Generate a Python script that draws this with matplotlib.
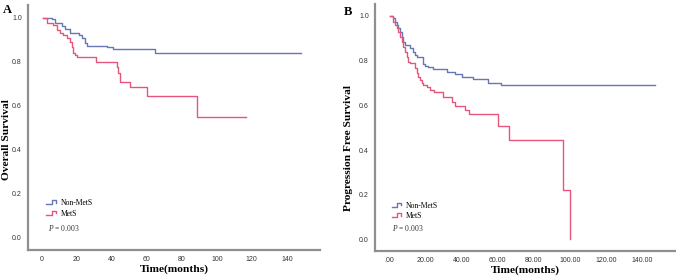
import matplotlib
matplotlib.use("Agg")
import matplotlib.pyplot as plt
from matplotlib.legend_handler import HandlerBase
from matplotlib.lines import Line2D

plt.rcParams['mathtext.fontset'] = 'custom'
plt.rcParams['mathtext.it'] = 'Liberation Serif:italic'
plt.rcParams['mathtext.rm'] = 'Liberation Serif'

# ---------------- data ----------------
os_non_t = [0.76, 5.5, 7.4, 11.2, 13.1, 16.0, 21.3, 22.7, 24.6, 25.5, 37.0, 40.7, 64.6, 148.0]
os_non_s = [1.0, 0.994, 0.976, 0.965, 0.948, 0.930, 0.923, 0.907, 0.885, 0.874, 0.867, 0.857, 0.842, 0.842]
os_met_t = [0.76, 2.7, 6.5, 8.4, 10.3, 12.2, 14.1, 16.0, 17.0, 17.9, 18.9, 19.8, 30.9, 42.7, 43.6, 44.6,
            50.3, 59.8, 88.7, 116.4]
os_met_s = [1.0, 0.976, 0.968, 0.945, 0.930, 0.923, 0.907, 0.892, 0.870, 0.839, 0.832, 0.821, 0.798, 0.778,
            0.748, 0.710, 0.684, 0.645, 0.551, 0.551]

pfs_non_t = [0.4, 2.2, 3.2, 4.1, 5.0, 5.9, 6.9, 7.8, 8.7, 11.5, 13.3, 14.2, 15.2, 18.8, 19.8, 21.6, 24.4,
             31.8, 36.4, 40.1, 46.5, 54.8, 62.0, 147.2]
pfs_non_s = [1.0, 0.990, 0.975, 0.960, 0.945, 0.930, 0.907, 0.885, 0.870, 0.855, 0.840, 0.825, 0.818, 0.785,
             0.776, 0.770, 0.761, 0.751, 0.740, 0.728, 0.716, 0.701, 0.691, 0.691]
pfs_met_t = [0.4, 2.2, 3.2, 4.1, 5.0, 5.9, 6.9, 7.8, 8.7, 9.6, 10.5, 11.5, 14.2, 15.2, 16.1, 17.0, 17.9, 18.8,
             20.7, 22.5, 25.0, 29.9, 34.6, 36.4, 41.9, 44.3, 60.4, 66.3, 96.4, 100.1]
pfs_met_s = [1.0, 0.975, 0.960, 0.945, 0.930, 0.907, 0.885, 0.863, 0.840, 0.818, 0.796, 0.791, 0.766, 0.743,
             0.728, 0.713, 0.701, 0.691, 0.681, 0.669, 0.661, 0.639, 0.616, 0.597, 0.579, 0.560, 0.507,
             0.446, 0.221, 0.0]

groups = ["Non-MetS", "MetS"]
x_ticks = [0, 20, 40, 60, 80, 100, 120, 140]
x_labels_a = ["0", "20", "40", "60", "80", "100", "120", "140"]
x_labels_b = [".00", "20.00", "40.00", "60.00", "80.00", "100.00", "120.00", "140.00"]
y_ticks = [0.0, 0.2, 0.4, 0.6, 0.8, 1.0]
y_labels = ["0.0", "0.2", "0.4", "0.6", "0.8", "1.0"]
p_text = "$P$ = 0.003"

BLUE = "#6677b3"
RED = "#e8557c"
SPINE = "#8f8f8f"


class StepHandler(HandlerBase):
    def create_artists(self, legend, orig_handle, xdescent, ydescent, width, height, fontsize, trans):
        xs = [0, width * 0.6, width * 0.6, width, width]
        ys = [height * 0.15, height * 0.15, height * 0.85, height * 0.85, height * 0.45]
        ln = Line2D(xs, ys, color=orig_handle.get_color(), lw=1.0)
        ln.set_transform(trans)
        return [ln]


fig = plt.figure(figsize=(6.76, 2.79), dpi=100)
axA = fig.add_axes([0.0414, 0.104, 0.432, 0.878])
axB = fig.add_axes([0.5547, 0.100, 0.4453, 0.886])

specs = [
    (axA, os_non_t, os_non_s, os_met_t, os_met_s, x_labels_a, "Overall Survival",
     (-8, 159), (-0.056, 1.059), (0.062, 0.207), (0.068, 0.088), (-0.057, 0.449)),
    (axB, pfs_non_t, pfs_non_s, pfs_met_t, pfs_met_s, x_labels_b, "Progression Free Survival",
     (-7.9, 158.8), (-0.052, 1.054), (0.055, 0.20), (0.055, 0.094), (-0.072, 0.417)),
]

for ax, nt, ns, mt, ms, xl, ylab, xlim, ylim, legpos, ppos, ylpos in specs:
    h1, = ax.step(nt, ns, where="post", color=BLUE, lw=1.0)
    h2, = ax.step(mt, ms, where="post", color=RED, lw=1.0)
    ax.set_xlim(*xlim)
    ax.set_ylim(*ylim)
    for s in ["top", "right"]:
        ax.spines[s].set_visible(False)
    for s in ["left", "bottom"]:
        ax.spines[s].set_color(SPINE)
        ax.spines[s].set_linewidth(1.6)
    ax.set_xticks(x_ticks)
    ax.set_xticklabels(xl)
    ax.set_yticks(y_ticks)
    ax.set_yticklabels(y_labels)
    ax.tick_params(length=0, labelsize=5, labelcolor="#333333", pad=4.5)
    for lab in ax.get_xticklabels() + ax.get_yticklabels():
        lab.set_family("Liberation Sans")
    ax.set_xlabel("Time(months)", family="Liberation Serif", fontweight="bold", fontsize=8.2, labelpad=0.8)
    ax.set_ylabel(ylab, family="Liberation Serif", fontweight="bold", fontsize=8.2)
    ax.yaxis.set_label_coords(*ylpos)
    ax.legend([h1, h2], groups, loc="upper left", bbox_to_anchor=legpos, frameon=False,
              handler_map={Line2D: StepHandler()}, handlelength=1.3, handleheight=0.8,
              handletextpad=0.6, labelspacing=0.35, borderpad=0, borderaxespad=0,
              prop={"family": "Liberation Serif", "size": 5.5})
    ax.text(ppos[0], ppos[1], p_text, transform=ax.transAxes, family="Liberation Serif",
            fontsize=5.5, color="#333333", va="center", ha="left")

fig.text(0.004, 0.985, "A", family="Liberation Serif", fontweight="bold", fontsize=9, va="top")
fig.text(0.509, 0.98, "B", family="Liberation Serif", fontweight="bold", fontsize=9, va="top")

fig.savefig("out.png", dpi=100)
